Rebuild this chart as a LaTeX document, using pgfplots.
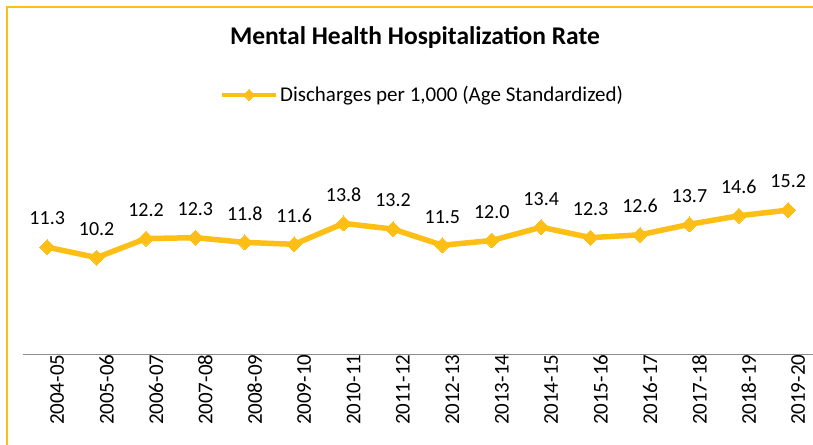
\documentclass[border=0pt]{standalone}
\usepackage{fontspec}
\setmainfont{Carlito}
\usepackage{pgfplots}
\pgfplotsset{compat=1.18}
\definecolor{gold}{RGB}{253,190,22}
\begin{document}
\begin{tikzpicture}[x=1pt,y=1pt]
\path[use as bounding box] (0,0) rectangle (813,444);
\draw[gold, line width=2pt] (7,-2) -- (7,437) -- (815,437);
\begin{axis}[
  at={(22.5pt,89.5pt)}, anchor=south west,
  x=49.4pt, y=9.5pt,
  xmin=-0.5, xmax=15.5, ymin=0, ymax=20,
  axis x line*=bottom, axis y line=none,
  axis line style={draw=black!45, line width=1.2pt},
  xtick={0,...,15},
  xticklabels={2004-05,2005-06,2006-07,2007-08,2008-09,2009-10,2010-11,2011-12,2012-13,2013-14,2014-15,2015-16,2016-17,2017-18,2018-19,2019-20},
  major tick length=0pt,
  xticklabel style={rotate=90, anchor=east, inner sep=0pt, yshift=-10pt, font=\fontsize{21}{25}\selectfont},
  clip=false,
  title={Mental Health Hospitalization Rate},
  title style={at={(0.4965,1.60)}, anchor=base, inner sep=0pt, font=\bfseries\fontsize{25.5}{30}\selectfont},
  legend style={draw=none, fill=none, at={(0.2498,1.366)}, anchor=west, inner sep=0pt, font=\fontsize{21}{25}\selectfont,
    legend image code/.code={\draw[mark repeat=2,mark phase=2,#1,line width=4pt,mark size=4pt] plot coordinates {(0pt,0pt) (27pt,0pt) (54pt,0pt)};}},
  legend cell align=left,
  nodes near coords,
  point meta=explicit symbolic,
  every node near coord/.append style={anchor=south, inner sep=0pt, yshift=22pt, text=black, font=\fontsize{20}{24}\selectfont},
]
\addplot[color=gold, line width=5.5pt, mark=square*, mark size=5.3pt, mark options={rotate=45, line width=0pt, fill=gold}]
table[meta=lab] {
x y lab
0 11.3 11.3
1 10.2 10.2
2 12.2 12.2
3 12.3 12.3
4 11.8 11.8
5 11.6 11.6
6 13.8 13.8
7 13.2 13.2
8 11.5 11.5
9 12.0 12.0
10 13.4 13.4
11 12.3 12.3
12 12.6 12.6
13 13.7 13.7
14 14.6 14.6
15 15.2 15.2
};
\addlegendentry{Discharges per 1,000 (Age Standardized)}
\end{axis}
\end{tikzpicture}
\end{document}
